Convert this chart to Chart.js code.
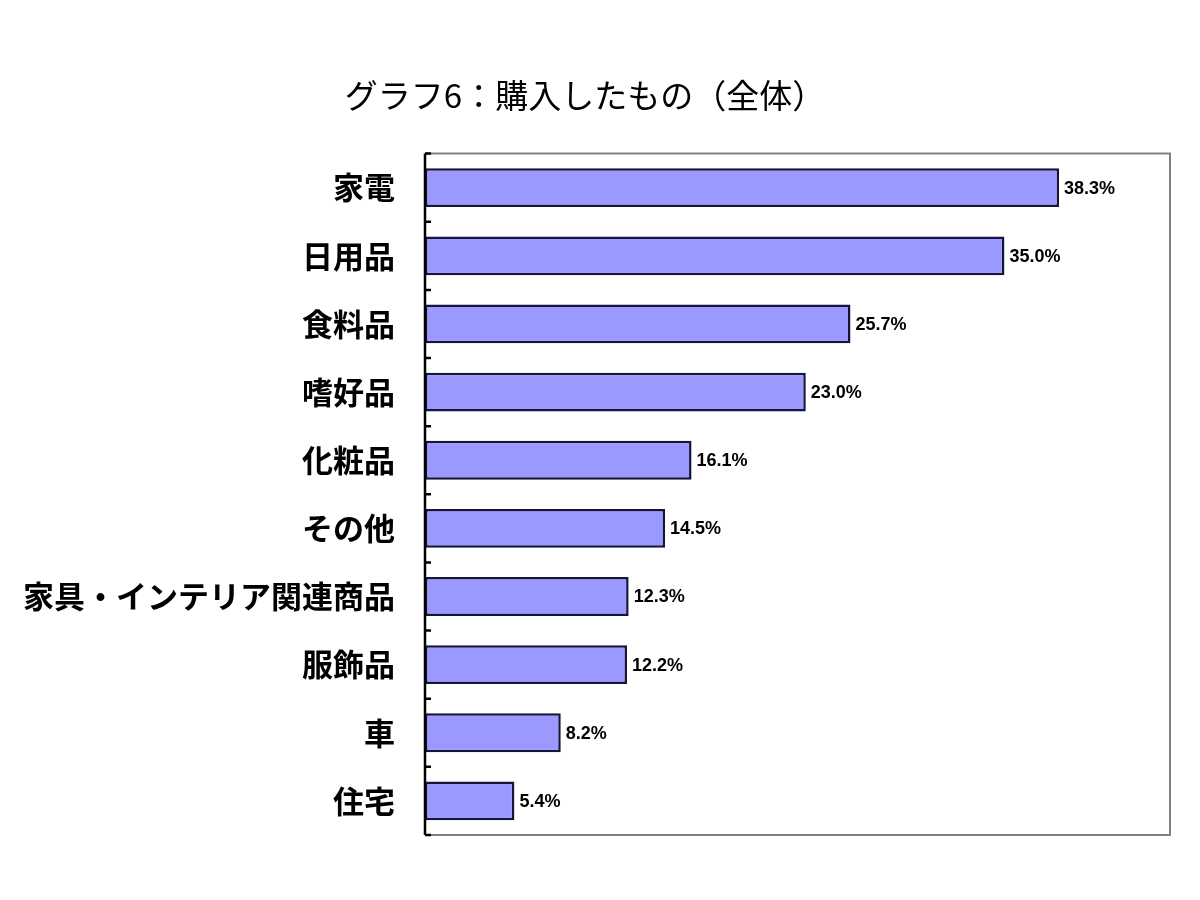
<!DOCTYPE html>
<html>
<head>
<meta charset="utf-8">
<script src="https://cdn.jsdelivr.net/npm/chart.js@4.4.1/dist/chart.umd.min.js"></script>
<style>
  body { margin: 0; background: #fff; }
  #wrap { width: 1200px; height: 900px; }
</style>
</head>
<body>
<div id="wrap"><canvas id="buyChart" width="1200" height="900"></canvas></div>
<script>
// purchased items (overall), %
const categories = ['家電', '日用品', '食料品', '嗜好品', '化粧品', 'その他', '家具・インテリア関連商品', '服飾品', '車', '住宅'];
const shares = [38.3, 35.0, 25.7, 23.0, 16.1, 14.5, 12.3, 12.2, 8.2, 5.4];
const chartTitle = 'グラフ6：購入したもの（全体）';

// frame around plot area + small inside ticks on the category axis
const framePlugin = {
    id: 'frame',
    afterDatasetsDraw(chart) {
        const { ctx, chartArea: a } = chart;
        ctx.save();
        ctx.strokeStyle = '#808080';
        ctx.lineWidth = 2;
        ctx.beginPath();
        ctx.moveTo(a.left, a.top);
        ctx.lineTo(a.right, a.top);
        ctx.lineTo(a.right, a.bottom);
        ctx.lineTo(a.left, a.bottom);
        ctx.stroke();
        ctx.strokeStyle = '#000';
        ctx.lineWidth = 2.5;
        ctx.beginPath();
        ctx.moveTo(a.left, a.top);
        ctx.lineTo(a.left, a.bottom);
        const step = (a.bottom - a.top) / categories.length;
        for (let i = 0; i <= categories.length; i++) {
            const y = a.top + step * i;
            ctx.moveTo(a.left, y);
            ctx.lineTo(a.left + 6, y);
        }
        ctx.stroke();
        ctx.restore();
    }
};

// value labels at bar ends
const valueLabels = {
    id: 'valueLabels',
    afterDatasetsDraw(chart) {
        const { ctx } = chart;
        const meta = chart.getDatasetMeta(0);
        ctx.save();
        ctx.fillStyle = '#000';
        ctx.font = 'bold 18px "Liberation Sans", Arial, sans-serif';
        ctx.textAlign = 'left';
        ctx.textBaseline = 'middle';
        meta.data.forEach((bar, i) => {
            ctx.fillText(shares[i].toFixed(1) + '%', bar.x + 5, bar.y + 1);
        });
        ctx.restore();
    }
};

const ctx = document.getElementById('buyChart').getContext('2d');
new Chart(ctx, {
    type: 'bar',
    data: {
        labels: categories,
        datasets: [{
            data: shares,
            backgroundColor: '#9999ff',
            borderColor: '#14143c',
            borderWidth: 2.5,
            borderSkipped: false,
            categoryPercentage: 1,
            barPercentage: 0.57
        }]
    },
    options: {
        indexAxis: 'y',
        responsive: false,
        animation: false,
        layout: { padding: { top: 76, right: 30, bottom: 65, left: 0 } },
        scales: {
            x: {
                display: false,
                min: 0,
                max: 45
            },
            y: {
                afterFit(scale) { scale.width = 425; },
                grid: { display: false },
                border: { display: false },
                ticks: {
                    color: '#000',
                    padding: 22,
                    font: { family: '"Noto Sans CJK JP"', size: 31, weight: 'bold' }
                }
            }
        },
        plugins: {
            legend: { display: false },
            tooltip: { enabled: false },
            title: {
                display: true,
                text: chartTitle,
                color: '#000',
                padding: { top: 0, bottom: 38 },
                font: { family: '"Noto Sans CJK JP"', size: 33, weight: 'normal', lineHeight: 1.2 }
            }
        }
    },
    plugins: [framePlugin, valueLabels]
});
</script>
</body>
</html>
